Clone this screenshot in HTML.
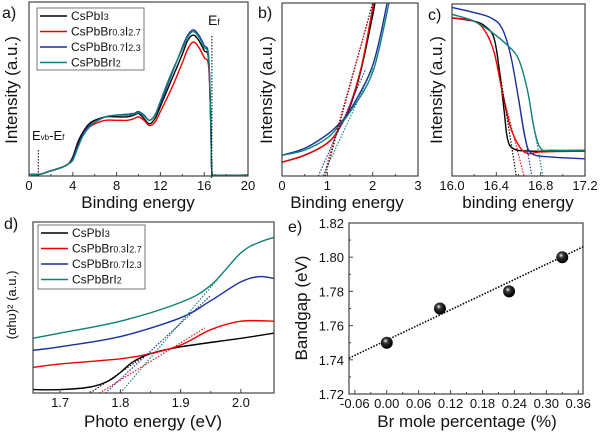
<!DOCTYPE html>
<html><head><meta charset="utf-8"><style>
body{margin:0;background:#fff}
svg{display:block;font-family:"Liberation Sans",sans-serif}
</style></head><body>
<svg id="s" width="600" height="437" viewBox="0 0 600 437"></svg>
<script>
// ---- data ----
const aBlack=[[0,0.01],[1,0.01],[2,0.03],[3,0.05],[3.6,0.07],[4,0.11],[4.5,0.2],[5,0.26],[5.5,0.3],[6,0.32],[7,0.34],[8,0.34],[9,0.34],[9.6,0.35],[10,0.36],[10.5,0.33],[11,0.3],[11.5,0.33],[12,0.4],[13,0.55],[14,0.7],[14.5,0.78],[15,0.81],[15.5,0.78],[16,0.72],[16.4,0.67],[16.6,0.3],[16.7,0.02],[17,0.005],[20,0.005]];
const aRed=[[0,0.01],[1,0.01],[2,0.03],[3,0.05],[3.6,0.07],[4,0.1],[4.5,0.18],[5,0.24],[5.5,0.28],[6,0.3],[7,0.32],[8,0.32],[9,0.32],[9.6,0.33],[10,0.34],[10.5,0.32],[11,0.29],[11.5,0.31],[12,0.37],[13,0.5],[14,0.65],[14.5,0.73],[15,0.77],[15.5,0.74],[16,0.68],[16.4,0.63],[16.6,0.3],[16.7,0.02],[17,0.005],[20,0.005]];
const aBlue=[[0,0.01],[1,0.01],[2,0.03],[3,0.05],[3.6,0.07],[4,0.1],[4.5,0.18],[5,0.25],[5.5,0.29],[6,0.31],[7,0.34],[8,0.35],[9,0.355],[9.6,0.36],[10,0.37],[10.5,0.35],[11,0.32],[11.5,0.35],[12,0.42],[13,0.58],[14,0.74],[14.5,0.81],[15,0.84],[15.5,0.81],[16,0.75],[16.4,0.69],[16.6,0.3],[16.7,0.02],[17,0.005],[20,0.005]];
const aTeal=[[0,0.01],[1,0.01],[2,0.03],[3,0.05],[3.6,0.07],[4,0.09],[4.5,0.17],[5,0.24],[5.5,0.28],[6,0.31],[7,0.34],[8,0.35],[9,0.35],[9.6,0.355],[10,0.365],[10.5,0.345],[11,0.32],[11.5,0.35],[12,0.43],[13,0.59],[14,0.73],[14.5,0.8],[15,0.83],[15.5,0.8],[16,0.74],[16.4,0.68],[16.6,0.3],[16.7,0.02],[17,0.005],[20,0.005]];
const bBlack=[[0,0.08],[0.5,0.12],[1,0.19],[1.25,0.27],[1.5,0.4],[1.75,0.62],[2,0.93],[2.05,1]];
const bRed=[[0,0.08],[0.5,0.12],[1,0.19],[1.25,0.27],[1.5,0.41],[1.75,0.63],[1.95,0.9],[2.02,1]];
const bBlue=[[0,0.12],[0.5,0.16],[1,0.24],[1.25,0.3],[1.5,0.38],[2,0.64],[2.32,1]];
const bTeal=[[0,0.12],[0.5,0.15],[1,0.22],[1.25,0.29],[1.5,0.37],[2,0.6],[2.36,1]];
const bTangents=[[[0.95,0],[2.0,1.0]],[[0.92,0],[1.9,0.9]],[[0.8,0],[1.85,0.62]],[[0.9,0],[2.0,0.62]]];
const cBlack=[[16,0.92],[16.2,0.9],[16.3,0.87],[16.38,0.8],[16.43,0.6],[16.47,0.38],[16.5,0.22],[16.55,0.16],[16.7,0.145],[17.2,0.145]];
const cRed=[[16,0.92],[16.2,0.9],[16.3,0.84],[16.38,0.72],[16.45,0.5],[16.52,0.3],[16.6,0.18],[16.68,0.13],[16.8,0.14],[17.2,0.145]];
const cBlue=[[16,0.98],[16.2,0.95],[16.35,0.92],[16.45,0.86],[16.53,0.7],[16.6,0.45],[16.66,0.22],[16.72,0.13],[16.9,0.11],[17.2,0.1]];
const cTeal=[[16,0.94],[16.2,0.9],[16.35,0.84],[16.5,0.76],[16.6,0.68],[16.68,0.5],[16.74,0.28],[16.8,0.16],[16.9,0.15],[17.2,0.15]];
const cTangents=[[[16.42,0.65],[16.58,0]],[[16.47,0.45],[16.65,0]],[[16.6,0.45],[16.72,0]],[[16.72,0.35],[16.82,0]]];
const dBlack=[[1.655,0.02],[1.7,0.02],[1.75,0.035],[1.78,0.07],[1.8,0.12],[1.82,0.18],[1.85,0.23],[1.9,0.27],[2.0,0.32],[2.055,0.35]];
const dRed=[[1.655,0.15],[1.7,0.17],[1.8,0.2],[1.85,0.23],[1.9,0.28],[1.95,0.37],[2.0,0.42],[2.055,0.42]];
const dBlue=[[1.655,0.25],[1.7,0.27],[1.8,0.33],[1.9,0.44],[1.95,0.54],[2.0,0.65],[2.03,0.68],[2.055,0.67]];
const dTeal=[[1.655,0.32],[1.7,0.35],[1.8,0.42],[1.9,0.53],[1.95,0.63],[2.0,0.82],[2.03,0.88],[2.055,0.91]];
const dTangents=[[[1.75,0],[1.85,0.24]],[[1.765,0],[1.94,0.38]],[[1.775,0],[1.95,0.57]],[[1.8,0],[1.96,0.66]]];
const eX=[0,0.10,0.23,0.33];
const eY=[1.75,1.77,1.78,1.80];
const eFit=[[-0.071,1.741],[0.369,1.806]];
const colors=['#000','#e00','#1a2f9e','#0e8078'];
const names=[['CsPbI','3',''],['CsPbBr','0.3','I','2.7'],['CsPbBr','0.7','I','2.3'],['CsPbBrI','2','']];
// ---- helpers ----
const S=document.getElementById('s'),NS='http://www.w3.org/2000/svg';
function el(t,a,p){const e=document.createElementNS(NS,t);for(const k in a)e.setAttribute(k,a[k]);(p||S).appendChild(e);return e;}
function txt(x,y,s,sz,anc,p){const e=el('text',{x:x,y:y,'font-size':sz,'text-anchor':anc||'middle',fill:'#111'},p);e.textContent=s;return e;}
function mk(x0,x1,y0,y1,X0,X1,Y0,Y1){return {sx:v=>X0+(v-x0)/(x1-x0)*(X1-X0),sy:v=>Y1-(v-y0)/(y1-y0)*(Y1-Y0),X0,X1,Y0,Y1};}
function frame(ax,name){const r=el('rect',{x:ax.X0,y:ax.Y0,width:ax.X1-ax.X0,height:ax.Y1-ax.Y0,fill:'none',stroke:'#444','stroke-width':1.2});}
function pathD(P,smooth){if(!smooth||P.length<3)return P.map((p,i)=>(i?'L':'M')+p[0].toFixed(1)+' '+p[1].toFixed(1)).join('');
 let d='M'+P[0][0].toFixed(1)+' '+P[0][1].toFixed(1);
 for(let i=0;i<P.length-1;i++){const p0=P[i-1]||P[i],p1=P[i],p2=P[i+1],p3=P[i+2]||p2;
  const c1=[p1[0]+(p2[0]-p0[0])/6,p1[1]+(p2[1]-p0[1])/6],c2=[p2[0]-(p3[0]-p1[0])/6,p2[1]-(p3[1]-p1[1])/6];
  d+='C'+c1.map(v=>v.toFixed(1)).join(' ')+' '+c2.map(v=>v.toFixed(1)).join(' ')+' '+p2[0].toFixed(1)+' '+p2[1].toFixed(1);}
 return d;}
function line(ax,pts,c,name,dash,w){const P=pts.map(p=>[ax.sx(p[0]),ax.sy(p[1])]);const e=el('path',{d:pathD(P,!dash),fill:'none',stroke:c,'stroke-width':w||1.4,'stroke-dasharray':dash||'none','stroke-linejoin':'round'});return e;}
function xticks(ax,vals,labs,minor){vals.forEach((v,i)=>{const x=ax.sx(v);el('line',{x1:x,x2:x,y1:ax.Y1,y2:ax.Y1-4,stroke:'#444'});const t=txt(x,ax.Y1+14,labs[i],13);});
 if(minor)minor.forEach(v=>{const x=ax.sx(v);el('line',{x1:x,x2:x,y1:ax.Y1,y2:ax.Y1-2,stroke:'#444'});});}
function legend(x,y,w,h,rows){const g=el('g',{});
 el('rect',{x:x,y:y,width:w,height:h,fill:'#fff',stroke:'#777','stroke-width':1},g);
 for(let i=0;i<4;i++){const yy=y+8+i*rows;el('line',{x1:x+3,x2:x+30,y1:yy,y2:yy,stroke:colors[i],'stroke-width':1.6},g);
 const t=el('text',{x:x+34,y:yy+4,'font-size':12,fill:'#111'},g);
 const n=names[i];t.appendChild(document.createTextNode(n[0]));
 const s1=el('tspan',{'font-size':9},t);s1.textContent=n[1];
 if(n[2]){const s2=el('tspan',{'font-size':12},t);s2.textContent=n[2];const s3=el('tspan',{'font-size':9},t);s3.textContent=n[3];}}}
function ylab(x,y,s,sz){const t=txt(0,0,s,sz);t.setAttribute('transform',`translate(${x},${y}) rotate(-90)`);return t;}
function lbl(x,y,s){const t=txt(x,y,s,16,'start');}
// ---- panel a ----
const A=mk(0,20,0,1,29,248,2,176);
[aBlack,aRed,aBlue,aTeal].forEach((d,i)=>line(A,d,colors[i],'series-a-'+i));
frame(A,'panel-a-frame');
xticks(A,[0,4,8,12,16,20],['0','4','8','12','16','20'],[2,6,10,14,18]);
txt(138,208,'Binding energy',17);
ylab(17,90,'Intensity (a.u.)',17);
legend(37,8,107,62,15.5);
el('line',{x1:A.sx(16.7),x2:A.sx(16.7),y1:36,y2:176,stroke:'#000','stroke-dasharray':'1.5 1.5'});
el('line',{x1:A.sx(0.85),x2:A.sx(0.85),y1:150,y2:176,stroke:'#000','stroke-dasharray':'1.5 1.5'});
{const t=txt(208,25,'E',14,'start');const s=el('tspan',{'font-size':9},t);s.textContent='f';}
{const t=txt(32,140,'E',13,'start');const s=el('tspan',{'font-size':8},t);s.textContent='vb';const s2=el('tspan',{'font-size':13},t);s2.textContent='-E';const s3=el('tspan',{'font-size':8},t);s3.textContent='f';}
lbl(2,18,'a)');
// ---- panel b ----
const B=mk(0,3,0,1,282,418,3,176);
const cp=el('clipPath',{id:'cb'});el('rect',{x:282,y:3,width:136,height:173},cp);
[bBlack,bRed,bBlue,bTeal].forEach((d,i)=>{line(B,d,colors[i],'series-b-'+i).setAttribute('clip-path','url(#cb)');});
bTangents.forEach((d,i)=>line(B,d,colors[i],'tangent-b-'+i,'1.5 1.5',1.1).setAttribute('clip-path','url(#cb)'));
frame(B,'panel-b-frame');
xticks(B,[0,1,2,3],['0','1','2','3'],[0.5,1.5,2.5]);
txt(347,208,'Binding energy',17);
ylab(272,90,'Intensity (a.u.)',17);
lbl(258,18,'b)');
// ---- panel c ----
const C=mk(16,17.2,0,1,452,585,4,176);
[cBlack,cRed,cBlue,cTeal].forEach((d,i)=>line(C,d,colors[i],'series-c-'+i));
cTangents.forEach((d,i)=>line(C,d,colors[i],'tangent-c-'+i,'1.5 1.5',1.1));
frame(C,'panel-c-frame');
xticks(C,[16,16.4,16.8,17.2],['16.0','16.4','16.8','17.2'],[16.2,16.6,17.0]);
txt(518,208,'binding energy',17);
ylab(442,90,'Intensity (a.u.)',17);
lbl(428,20,'c)');
// ---- panel d ----
const D=mk(1.655,2.055,0,1,33,274,222,393);
[dBlack,dRed,dBlue,dTeal].forEach((d,i)=>line(D,d,colors[i],'series-d-'+i));
dTangents.forEach((d,i)=>line(D,d,colors[i],'tangent-d-'+i,'1.5 1.5',1.1));
frame(D,'panel-d-frame');
xticks(D,[1.7,1.8,1.9,2.0],['1.7','1.8','1.9','2.0'],[1.75,1.85,1.95]);
txt(153,427,'Photo energy (eV)',17);
ylab(16,305,'(αhυ)² (a.u.)',13);
legend(38,225,107,64,15.5);
lbl(4,229,'d)');
// ---- panel e ----
const E=mk(-0.071,0.369,1.72,1.82,349,583,223,394);
frame(E,'panel-e-frame');
xticks(E,[-0.06,0,0.06,0.12,0.18,0.24,0.30,0.36],['-0.06','0.00','0.06','0.12','0.18','0.24','0.30','0.36'],[-0.03,0.03,0.09,0.15,0.21,0.27,0.33]);
[1.72,1.74,1.76,1.78,1.80,1.82].forEach(v=>{const y=E.sy(v);el('line',{x1:349,x2:353,y1:y,y2:y,stroke:'#444'});const t=txt(344,y+5,v.toFixed(2),13,'end');});
[1.73,1.75,1.77,1.79,1.81].forEach(v=>{const y=E.sy(v);el('line',{x1:349,x2:351,y1:y,y2:y,stroke:'#444'});});
line(E,eFit,'#000','fit-line','1.5 1.5',1.6);
const defs=el('defs',{});const rg=el('radialGradient',{id:'ball',cx:'0.4',cy:'0.35',r:'0.6'},defs);
el('stop',{offset:'0','stop-color':'#eee'},rg);el('stop',{offset:'0.35','stop-color':'#333'},rg);el('stop',{offset:'1','stop-color':'#000'},rg);
eX.forEach((x,i)=>{const c=el('circle',{cx:E.sx(x),cy:E.sy(eY[i]),r:6,fill:'url(#ball)'});});
txt(467,427,'Br mole percentage (%)',17);
ylab(307,308,'Bandgap (eV)',17);
lbl(288,232,'e)');
</script>
</body></html>
